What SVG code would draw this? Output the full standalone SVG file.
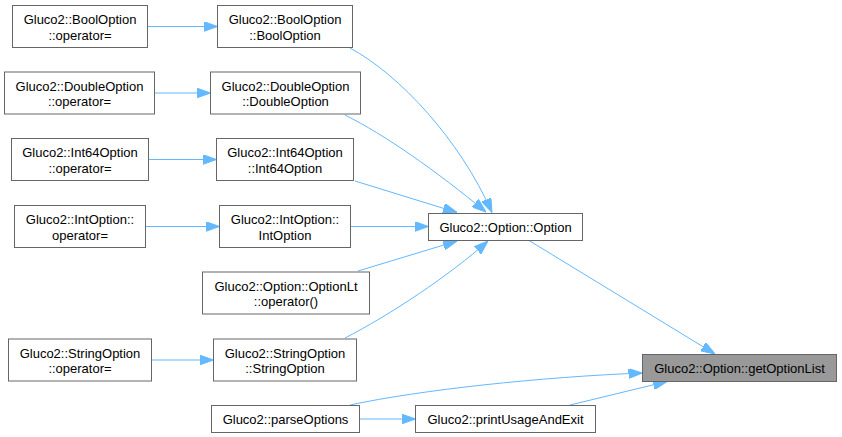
<svg xmlns="http://www.w3.org/2000/svg" width="842" height="437" viewBox="0 0 842 437">
<style>
.n rect{fill:#ffffff;stroke:#666666;stroke-width:1}
.n.hl rect{fill:#999999}
.n text{font-family:"Liberation Sans",Arial,sans-serif;font-size:13px;fill:#000000;text-anchor:middle}
.e path{fill:none;stroke:#63b8ff;stroke-width:1;marker-end:url(#ah)}
</style>
<defs>
<marker id="ah" viewBox="0 0 14 10" markerWidth="14" markerHeight="10" markerUnits="userSpaceOnUse" refX="14" refY="5" orient="auto">
<path d="M0,0 L14,5 L0,10 z" fill="#63b8ff" stroke="#63b8ff" stroke-width="1"/>
</marker>
</defs>
<rect width="842" height="437" fill="#ffffff"/>
<g id="edges" class="e">
<path d="M148,26.5 L217.5,26.5"/>
<path d="M155,93 L210.5,93"/>
<path d="M149,159.5 L216.5,159.5"/>
<path d="M146,226.5 L219.5,226.5"/>
<path d="M152,360 L213.5,360"/>
<path d="M360,419 L415.5,419"/>
<path d="M350,48 C400,75 460,140 492,212.5"/>
<path d="M345,115 C385,135 435,170 486,212"/>
<path d="M355,181 L457,212.5"/>
<path d="M351,226.5 L428.5,226.5"/>
<path d="M358,271 L457,241"/>
<path d="M345,338 C390,315 450,275 488,241"/>
<path d="M529,240.5 L715,354"/>
<path d="M350,405 C420,390 540,377 642.5,373"/>
<path d="M570,405 L667,381.5"/>
</g>
<g id="bool_op" class="n"><rect x="12.5" y="5.5" width="135" height="42"/><text x="80" y="24">Gluco2::BoolOption</text><text x="80" y="39.5">::operator=</text></g>
<g id="bool_ctor" class="n"><rect x="217.5" y="5.5" width="135" height="42"/><text x="285" y="24">Gluco2::BoolOption</text><text x="285" y="39.5">::BoolOption</text></g>
<g id="double_op" class="n"><rect x="4.5" y="72" width="150" height="42"/><text x="79.5" y="90.5">Gluco2::DoubleOption</text><text x="79.5" y="106">::operator=</text></g>
<g id="double_ctor" class="n"><rect x="210.5" y="72" width="150" height="42"/><text x="285.5" y="90.5">Gluco2::DoubleOption</text><text x="285.5" y="106">::DoubleOption</text></g>
<g id="int64_op" class="n"><rect x="11.5" y="138.5" width="137" height="42"/><text x="80" y="157">Gluco2::Int64Option</text><text x="80" y="172.5">::operator=</text></g>
<g id="int64_ctor" class="n"><rect x="216.5" y="138.5" width="137" height="42"/><text x="285" y="157">Gluco2::Int64Option</text><text x="285" y="172.5">::Int64Option</text></g>
<g id="int_op" class="n"><rect x="14.5" y="205.5" width="131" height="42"/><text x="80" y="224">Gluco2::IntOption::</text><text x="80" y="239.5">operator=</text></g>
<g id="int_ctor" class="n"><rect x="219.5" y="205.5" width="131" height="42"/><text x="285" y="224">Gluco2::IntOption::</text><text x="285" y="239.5">IntOption</text></g>
<g id="optionlt" class="n"><rect x="202.5" y="272" width="167" height="42"/><text x="286" y="290.5">Gluco2::Option::OptionLt</text><text x="286" y="306">::operator()</text></g>
<g id="string_op" class="n"><rect x="8.5" y="339" width="143" height="42"/><text x="80" y="357.5">Gluco2::StringOption</text><text x="80" y="373">::operator=</text></g>
<g id="string_ctor" class="n"><rect x="213.5" y="339" width="143" height="42"/><text x="285" y="357.5">Gluco2::StringOption</text><text x="285" y="373">::StringOption</text></g>
<g id="parse" class="n"><rect x="211.5" y="405.5" width="148" height="27"/><text x="285.5" y="423.5">Gluco2::parseOptions</text></g>
<g id="option" class="n"><rect x="428.5" y="213.5" width="154" height="27"/><text x="505.5" y="231.5">Gluco2::Option::Option</text></g>
<g id="usage" class="n"><rect x="415.5" y="405.5" width="180" height="27"/><text x="505.5" y="423.5">Gluco2::printUsageAndExit</text></g>
<g id="getoptionlist" class="n hl"><rect x="642.5" y="354.5" width="194" height="27"/><text x="739.5" y="372.5">Gluco2::Option::getOptionList</text></g>
</svg>
